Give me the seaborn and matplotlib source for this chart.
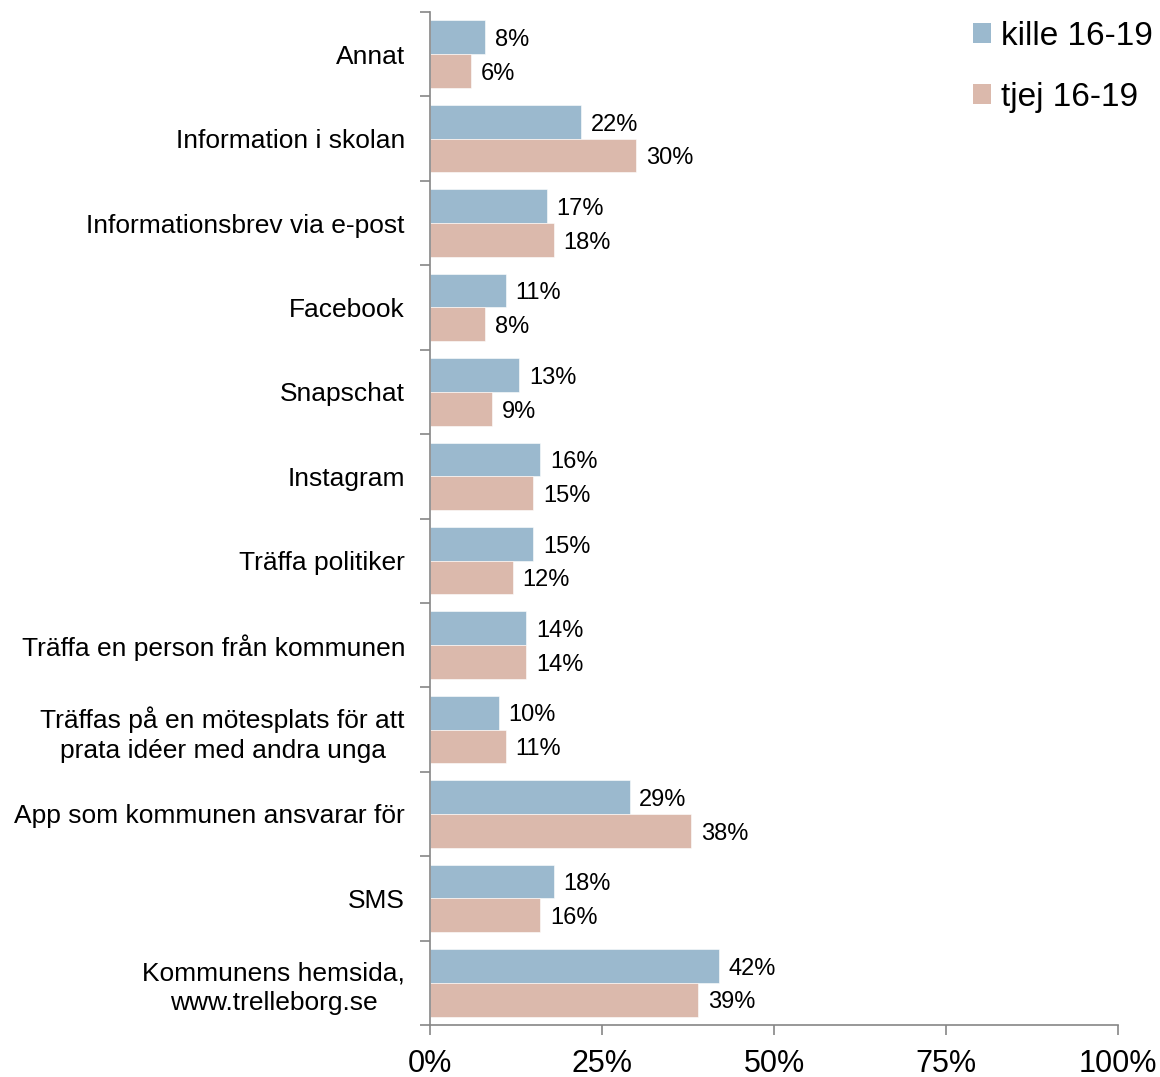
import numpy as np
import pandas as pd
import matplotlib
matplotlib.use("Agg")
import matplotlib.pyplot as plt
import seaborn as sns
from matplotlib.patches import Patch

categories = [
    "Annat",
    "Information i skolan",
    "Informationsbrev via e-post",
    "Facebook",
    "Snapschat",
    "Instagram",
    "Träffa politiker",
    "Träffa en person från kommunen",
    "Träffas på en mötesplats för att\nprata idéer med andra unga",
    "App som kommunen ansvarar för",
    "SMS",
    "Kommunens hemsida,\nwww.trelleborg.se",
]
kille = [8, 22, 17, 11, 13, 16, 15, 14, 10, 29, 18, 42]
tjej = [6, 30, 18, 8, 9, 15, 12, 14, 11, 38, 16, 39]
series_names = ["kille 16-19", "tjej 16-19"]
x_ticks = [0, 25, 50, 75, 100]
x_tick_labels = ["0%", "25%", "50%", "75%", "100%"]

colors = ["#9bb9ce", "#dbb9ac"]

sns.set_style("white")
plt.rcParams["font.family"] = ["Liberation Sans", "DejaVu Sans"]
plt.rcParams["text.color"] = "black"
plt.rcParams["xtick.color"] = "black"
plt.rcParams["ytick.color"] = "black"

df = pd.DataFrame({
    "Kategori": categories * 2,
    "Värde": kille + tjej,
    "Grupp": [series_names[0]] * len(categories) + [series_names[1]] * len(categories),
})

fig = plt.figure(figsize=(11.6, 10.77), dpi=100)
ax = fig.add_axes([430 / 1160, 1 - 1025 / 1077, 688 / 1160, (1025 - 12) / 1077])

sns.barplot(data=df, y="Kategori", x="Värde", hue="Grupp", orient="h",
            palette=colors, saturation=1, width=0.8, ax=ax,
            edgecolor="white", linewidth=0.4, legend=False)

for cont in ax.containers:
    labels = ax.bar_label(cont, fmt="%d%%", padding=7, fontsize=17, color="black")
    for t in labels:
        t.set_va("center")
        x0, y0 = t.xyann
        t.xyann = (x0, y0 - 2)

ax.set_xlim(0, 100)
ax.set_ylim(len(categories) - 0.5, -0.5)
ax.set_xticks(x_ticks)
ax.set_xticklabels(x_tick_labels, fontsize=22)
ax.set_yticks(range(len(categories)))
ax.set_yticklabels(categories, fontsize=19)
for t in ax.get_yticklabels():
    t.set_multialignment("center")
    t.set_linespacing(1.3)
ax.set_yticks(np.arange(-0.5, len(categories), 1), minor=True)
ax.tick_params(axis="y", which="major", length=0, pad=18, labelcolor="black")
ax.tick_params(axis="y", which="minor", length=7, width=1.2, color="#868686", direction="out", left=True)
ax.tick_params(axis="x", which="major", length=7, width=1.2, color="#868686", direction="out",
               bottom=True, pad=10, labelcolor="black")
ax.set_xlabel("")
ax.set_ylabel("")

for side in ["top", "right"]:
    ax.spines[side].set_visible(False)
for side in ["left", "bottom"]:
    ax.spines[side].set_color("#868686")
    ax.spines[side].set_linewidth(1.2)

handles = [Patch(facecolor=c, edgecolor="none") for c in colors]
fig.legend(handles, series_names, loc="upper right", bbox_to_anchor=(1.014, 1.002),
           frameon=False, fontsize=24, handlelength=0.55, handleheight=0.55,
           handletextpad=0.3, labelspacing=0.9, borderaxespad=0.3)

fig.savefig("out.png", dpi=100)
